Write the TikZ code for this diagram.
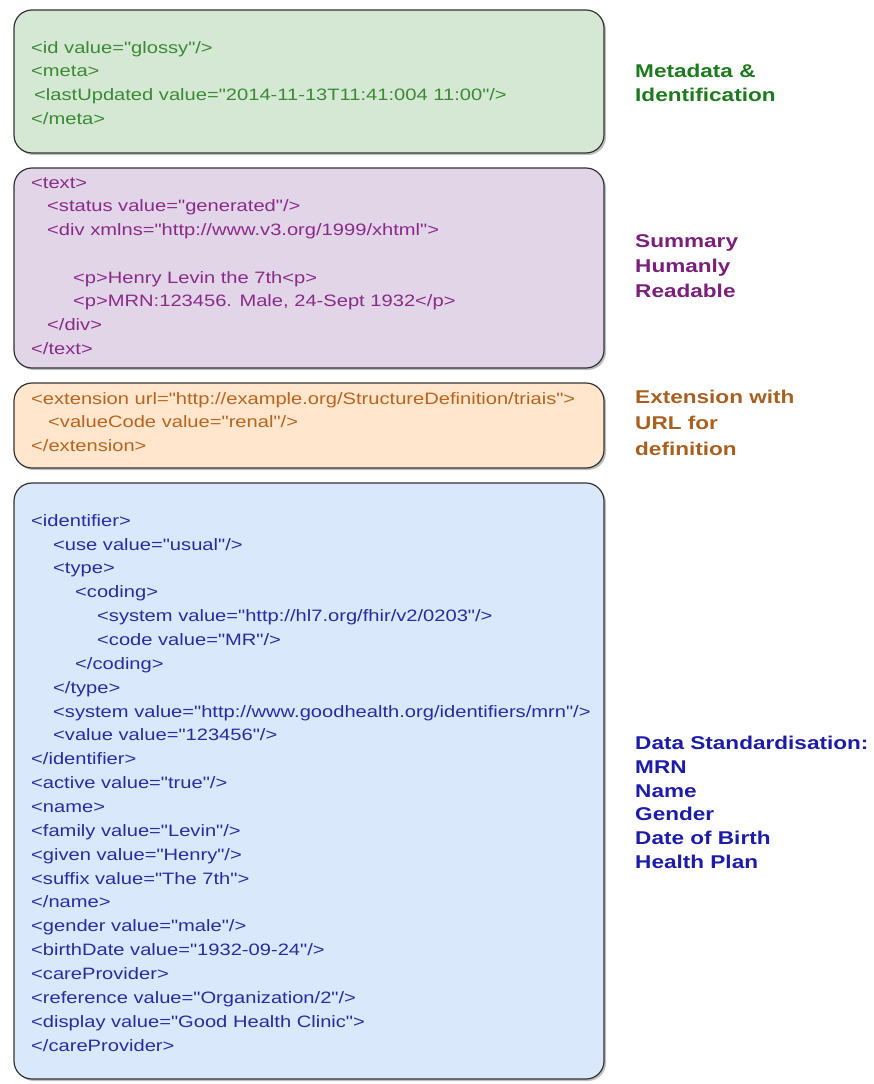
\documentclass[tikz,border=0pt]{standalone}
\usepackage{fontspec}
\setmainfont{Liberation Sans}
\newfontfamily\xmlfont[FakeStretch=1.22]{Liberation Sans}
\usetikzlibrary{positioning}
\usetikzlibrary{shadows}

\definecolor{metaFill}{HTML}{D5E8D4}
\definecolor{metaText}{HTML}{3A8A34}
\definecolor{metaTag}{HTML}{1E7A1E}
\definecolor{narrFill}{HTML}{E1D5E7}
\definecolor{narrText}{HTML}{8A2B8A}
\definecolor{narrTag}{HTML}{7A1F7A}
\definecolor{extFill}{HTML}{FFE6CC}
\definecolor{extText}{HTML}{B8641E}
\definecolor{extTag}{HTML}{A86020}
\definecolor{patFill}{HTML}{DAE8FC}
\definecolor{patText}{HTML}{2B2BA0}
\definecolor{patTag}{HTML}{1C1CA8}

\tikzset{
  section/.style={draw=black!80, line width=1.2pt, rounded corners=18pt,
    anchor=north west, inner sep=0pt, outer sep=0pt,
    drop shadow={shadow xshift=2pt, shadow yshift=-2pt, fill=black!50, opacity=.5}},
  xml/.style={anchor=north west, inner sep=0pt, align=left,
    font=\xmlfont\fontsize{16.5}{23.75}\selectfont},
  tag/.style={anchor=west, inner sep=0pt, align=left,
    font=\xmlfont\bfseries\fontsize{18.5}{24}\selectfont},
}
\newcommand{\ind}[1]{\hspace*{#1pt}}
\newcommand{\firstline}{\rule{0pt}{13pt}}

\begin{document}
\begin{tikzpicture}[x=1pt, y=-1pt]
  \useasboundingbox (0,0) rectangle (873,1084);
  %--- Metadata
    \node[section, fill=metaFill, minimum width=590pt, minimum height=143pt] (meta) at (14,10) {};
    \node[xml, text=metaText] (metaxml) at ([shift={(17,30)}]meta.north west)
      {\firstline<id value="glossy"/>\\
       <meta>\\
       \ind{3}<lastUpdated value="2014-11-13T11:41:004 11:00"/>\\
       </meta>};
    \node[tag, text=metaTag, right=31pt of meta, yshift=-1.5pt] (metatag)
      {\rule{0pt}{14pt}Metadata \&\\ Identification};
  %--- Narrative
    \node[section, fill=narrFill, minimum width=590pt, minimum height=200pt] (narr) at (14,168) {};
    \node[xml, text=narrText] (narrxml) at ([shift={(17,7)}]narr.north west)
      {\firstline<text>\\
       \ind{16}<status value="generated"/>\\
       \ind{16}<div xmlns="http://www.v3.org/1999/xhtml">\\[23.75pt]
       \ind{42}<p>Henry Levin the 7th<p>\\
       \ind{42}<p>MRN:123456. Male, 24-Sept 1932</p>\\
       \ind{16}</div>\\
       </text>};
    \node[tag, text=narrTag, right=31pt of narr, yshift=2pt, font=\xmlfont\bfseries\fontsize{18.5}{25}\selectfont] (narrtag)
      {\rule{0pt}{14pt}Summary\\ Humanly\\ Readable};
  %--- Extension
    \node[section, fill=extFill, minimum width=590pt, minimum height=85pt] (ext) at (14,383) {};
    \node[xml, text=extText] (extxml) at ([shift={(17,8)}]ext.north west)
      {\firstline<extension url="http://example.org/StructureDefinition/triais">\\
       \ind{17}<valueCode value="renal"/>\\
       </extension>};
    \node[tag, text=extTag, right=31pt of ext, yshift=2.5pt, font=\xmlfont\bfseries\fontsize{18.5}{26}\selectfont] (exttag)
      {\rule{0pt}{14pt}Extension with\\ URL for\\ definition};
  %--- Patient data
    \node[section, fill=patFill, minimum width=590pt, minimum height=596pt] (pat) at (14,483) {};
    \node[xml, text=patText, font=\xmlfont\fontsize{16.5}{23.86}\selectfont] (patxml) at ([shift={(17,30)}]pat.north west)
      {\firstline<identifier>\\
       \ind{22}<use value="usual"/>\\
       \ind{22}<type>\\
       \ind{44}<coding>\\
       \ind{66}<system value="http://hl7.org/fhir/v2/0203"/>\\
       \ind{66}<code value="MR"/>\\
       \ind{44}</coding>\\
       \ind{22}</type>\\
       \ind{22}<system value="http://www.goodhealth.org/identifiers/mrn"/>\\
       \ind{22}<value value="123456"/>\\
       </identifier>\\
       <active value="true"/>\\
       <name>\\
       <family value="Levin"/>\\
       <given value="Henry"/>\\
       <suffix value="The 7th">\\
       </name>\\
       <gender value="male"/>\\
       <birthDate value="1932-09-24"/>\\
       <careProvider>\\
       <reference value="Organization/2"/>\\
       <display value="Good Health Clinic">\\
       </careProvider>};
    \node[tag, text=patTag, right=31pt of pat, yshift=-21pt, font=\xmlfont\bfseries\fontsize{18.5}{23.7}\selectfont] (pattag)
      {\rule{0pt}{14pt}Data Standardisation:\\ MRN\\ Name\\ Gender\\ Date of Birth\\ Health Plan};
\end{tikzpicture}
\end{document}
